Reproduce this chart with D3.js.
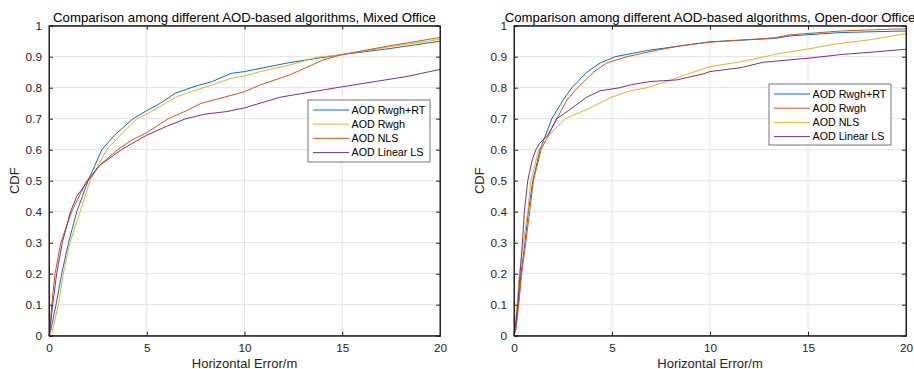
<!DOCTYPE html>
<html>
<head>
<meta charset="utf-8">
<script src="https://cdn.jsdelivr.net/npm/d3@7"></script>
<style>
  html, body { margin: 0; padding: 0; background: #fff; }
  svg { display: block; font-family: "Liberation Sans", Arial, Helvetica, sans-serif; }
</style>
</head>
<body>
<svg id="chart" width="914" height="369"></svg>
<script>
// ---------- DATA (horizontal error in m, CDF value) ----------
const xTicks = [0, 5, 10, 15, 20];
const yTicks = [0, 0.1, 0.2, 0.3, 0.4, 0.5, 0.6, 0.7, 0.8, 0.9, 1];

// Mixed Office
const mixedRwghRT_x = [0, 0.1, 0.36, 0.65, 1.0, 1.42, 2.0, 2.7, 3.4, 4.3, 5.0, 5.7, 6.45, 7.4, 8.35, 9.3, 10.0, 10.8, 12.3, 15.0, 17.4, 20];
const mixedRwghRT_y = [0, 0.02, 0.1, 0.2, 0.3, 0.4, 0.5, 0.6, 0.65, 0.7, 0.726, 0.75, 0.782, 0.803, 0.82, 0.846, 0.852, 0.862, 0.881, 0.907, 0.926, 0.95];
const mixedRwgh_x = [0, 0.15, 0.48, 0.73, 1.07, 1.59, 2.1, 2.95, 3.7, 4.5, 5.0, 5.7, 6.5, 7.4, 8.4, 9.3, 10.0, 10.8, 12.3, 13.7, 15.0, 17.4, 20];
const mixedRwgh_y = [0, 0.01, 0.1, 0.2, 0.3, 0.4, 0.5, 0.6, 0.65, 0.7, 0.715, 0.74, 0.77, 0.79, 0.81, 0.83, 0.838, 0.852, 0.873, 0.898, 0.907, 0.932, 0.956];
const mixedNLS_x = [0, 0.05, 0.14, 0.31, 0.6, 1.16, 1.93, 2.6, 3.5, 4.2, 5.0, 6.1, 7.0, 7.8, 9.0, 10.0, 10.8, 12.3, 13.2, 14.0, 15.0, 17.4, 20];
const mixedNLS_y = [0, 0.02, 0.1, 0.2, 0.3, 0.4, 0.5, 0.55, 0.6, 0.63, 0.655, 0.7, 0.725, 0.75, 0.77, 0.787, 0.809, 0.841, 0.866, 0.889, 0.907, 0.935, 0.962];
const mixedLinLS_x = [0, 0.05, 0.19, 0.39, 0.68, 1.1, 1.42, 2.0, 2.6, 3.7, 5.0, 6.0, 7.0, 8.0, 9.1, 10.0, 10.8, 11.8, 13.2, 15.0, 16.6, 18.3, 20];
const mixedLinLS_y = [0, 0.02, 0.1, 0.2, 0.3, 0.4, 0.45, 0.5, 0.55, 0.6, 0.647, 0.675, 0.7, 0.715, 0.723, 0.735, 0.75, 0.769, 0.784, 0.803, 0.819, 0.836, 0.859];

// Open-door Office
const openRwghRT_x = [0, 0.08, 0.22, 0.36, 0.56, 0.73, 0.96, 1.33, 1.93, 2.5, 2.95, 3.72, 4.4, 5.16, 6.8, 8.5, 10.0, 13.3, 14.1, 15.0, 16.7, 19.3, 20];
const openRwghRT_y = [0, 0.02, 0.1, 0.2, 0.3, 0.4, 0.5, 0.6, 0.7, 0.76, 0.8, 0.85, 0.88, 0.9, 0.92, 0.935, 0.948, 0.959, 0.967, 0.971, 0.978, 0.982, 0.983];
const openRwgh_x = [0, 0.1, 0.24, 0.39, 0.6, 0.8, 0.99, 1.38, 2.18, 2.7, 3.24, 4.06, 4.74, 5.76, 7.2, 8.5, 10.0, 13.3, 14.0, 15.0, 16.7, 19.3, 20];
const openRwgh_y = [0, 0.02, 0.1, 0.2, 0.3, 0.4, 0.5, 0.6, 0.7, 0.76, 0.8, 0.85, 0.88, 0.9, 0.92, 0.935, 0.947, 0.961, 0.97, 0.975, 0.983, 0.989, 0.99];
const openNLS_x = [0, 0.05, 0.15, 0.27, 0.48, 0.7, 0.86, 1.26, 1.84, 2.6, 3.72, 5.0, 5.93, 6.78, 7.8, 8.66, 10.0, 11.6, 13.6, 15.0, 16.4, 18.1, 19.6, 20];
const openNLS_y = [0, 0.03, 0.1, 0.2, 0.3, 0.4, 0.5, 0.6, 0.65, 0.7, 0.73, 0.77, 0.79, 0.8, 0.82, 0.84, 0.868, 0.884, 0.911, 0.925, 0.941, 0.954, 0.97, 0.974];
const openLinLS_x = [0, 0.05, 0.19, 0.31, 0.43, 0.53, 0.7, 0.94, 1.12, 1.3, 1.76, 2.18, 2.86, 3.72, 4.4, 5.4, 6.0, 6.95, 8.3, 9.68, 10.0, 11.6, 12.7, 15.0, 16.7, 18.5, 20];
const openLinLS_y = [0, 0.02, 0.1, 0.2, 0.3, 0.4, 0.5, 0.57, 0.6, 0.62, 0.65, 0.7, 0.73, 0.77, 0.79, 0.8, 0.81, 0.82, 0.825, 0.845, 0.852, 0.865, 0.882, 0.895, 0.907, 0.916, 0.924];

const C_BLUE = "#0072BD", C_RED = "#D95319", C_YELLOW = "#EDB120", C_PURPLE = "#7E2F8E";

const panels = [
  {
    title: "Comparison among different AOD-based algorithms, Mixed Office",
    left: 49, right: 440,
    legend: { x: 308, y: 100, w: 122, h: 62 },
    series: [
      { name: "AOD Rwgh+RT", xs: mixedRwghRT_x, ys: mixedRwghRT_y, color: C_BLUE },
      { name: "AOD Rwgh", xs: mixedRwgh_x, ys: mixedRwgh_y, color: C_YELLOW },
      { name: "AOD NLS", xs: mixedNLS_x, ys: mixedNLS_y, color: C_RED },
      { name: "AOD Linear LS", xs: mixedLinLS_x, ys: mixedLinLS_y, color: C_PURPLE }
    ]
  },
  {
    title: "Comparison among different AOD-based algorithms, Open-door Office",
    left: 514, right: 906,
    legend: { x: 769, y: 84, w: 122, h: 61 },
    series: [
      { name: "AOD Rwgh+RT", xs: openRwghRT_x, ys: openRwghRT_y, color: C_BLUE },
      { name: "AOD Rwgh", xs: openRwgh_x, ys: openRwgh_y, color: C_RED },
      { name: "AOD NLS", xs: openNLS_x, ys: openNLS_y, color: C_YELLOW },
      { name: "AOD Linear LS", xs: openLinLS_x, ys: openLinLS_y, color: C_PURPLE }
    ]
  }
];

const plotTop = 25.7, plotBottom = 335.7;
const axisColor = "#262626";
const svg = d3.select("#chart");

panels.forEach(p => {
  const x = d3.scaleLinear().domain([0, 20]).range([p.left, p.right]);
  const y = d3.scaleLinear().domain([0, 1]).range([plotBottom, plotTop]);
  const g = svg.append("g");

  // grid
  g.append("g").selectAll("line").data(xTicks).join("line")
    .attr("x1", d => x(d)).attr("x2", d => x(d)).attr("y1", plotTop).attr("y2", plotBottom)
    .attr("stroke", "#e3e3e3").attr("stroke-width", 1);
  g.append("g").selectAll("line").data(yTicks).join("line")
    .attr("y1", d => y(d)).attr("y2", d => y(d)).attr("x1", p.left).attr("x2", p.right)
    .attr("stroke", "#e3e3e3").attr("stroke-width", 1);

  // curves
  const line = d3.line().x(d => x(d[0])).y(d => y(d[1]));
  p.series.forEach(s => {
    const pts = s.xs.map((v, i) => [v, s.ys[i]]);
    g.append("path").datum(pts).attr("d", line)
      .attr("fill", "none").attr("stroke", s.color).attr("stroke-width", 1)
      .attr("stroke-linejoin", "round");
  });

  // axes (MATLAB-like box with inward ticks)
  const tl = 4;
  const bx = g.append("g").attr("transform", `translate(0,${plotBottom})`)
    .call(d3.axisBottom(x).tickValues(xTicks).tickSize(-tl).tickPadding(8).tickFormat(d3.format("d")));
  const tx = g.append("g").attr("transform", `translate(0,${plotTop})`)
    .call(d3.axisTop(x).tickValues(xTicks).tickSize(-tl).tickFormat(""));
  const ly = g.append("g").attr("transform", `translate(${p.left},0)`)
    .call(d3.axisLeft(y).tickValues(yTicks).tickSize(-tl).tickPadding(7).tickFormat(d => d === 0 || d === 1 ? d3.format("d")(d) : d3.format(".1f")(d)));
  const ry = g.append("g").attr("transform", `translate(${p.right},0)`)
    .call(d3.axisRight(y).tickValues(yTicks).tickSize(-tl).tickFormat(""));
  [bx, tx, ly, ry].forEach(a => {
    a.select(".domain").attr("stroke", axisColor).attr("stroke-width", 1);
    a.selectAll(".tick line").attr("stroke", axisColor);
    a.selectAll(".tick text").attr("fill", axisColor).style("font-size", "11.8px")
      .style("font-family", '"Liberation Sans", Arial, sans-serif');
  });
  g.append("rect").attr("x", p.left).attr("y", plotTop).attr("width", p.right - p.left).attr("height", plotBottom - plotTop)
    .attr("fill", "none").attr("stroke", axisColor).attr("stroke-width", 1);

  // title
  g.append("text").attr("x", (p.left + p.right) / 2).attr("y", 22)
    .attr("text-anchor", "middle").attr("fill", "#000").style("font-size", "13.2px").text(p.title);

  // axis labels
  g.append("text").attr("x", (p.left + p.right) / 2).attr("y", 368)
    .attr("text-anchor", "middle").attr("fill", axisColor).style("font-size", "13px").text("Horizontal Error/m");
  g.append("text").attr("transform", `translate(${p.left - 30},${(plotTop + plotBottom) / 2}) rotate(-90)`)
    .attr("text-anchor", "middle").attr("fill", axisColor).style("font-size", "13px").text("CDF");

  // legend
  const L = p.legend;
  const lg = g.append("g");
  lg.append("rect").attr("x", L.x).attr("y", L.y).attr("width", L.w).attr("height", L.h)
    .attr("fill", "#fff").attr("stroke", "#555").attr("stroke-width", 0.8);
  p.series.forEach((s, i) => {
    const yy = L.y + 10 + i * 14.2;
    lg.append("line").attr("x1", L.x + 5).attr("x2", L.x + 41).attr("y1", yy).attr("y2", yy)
      .attr("stroke", s.color).attr("stroke-width", 1);
    lg.append("text").attr("x", L.x + 43.5).attr("y", yy + 3.8).attr("fill", "#000")
      .style("font-size", "10.7px").text(s.name);
  });
});
</script>
</body>
</html>
